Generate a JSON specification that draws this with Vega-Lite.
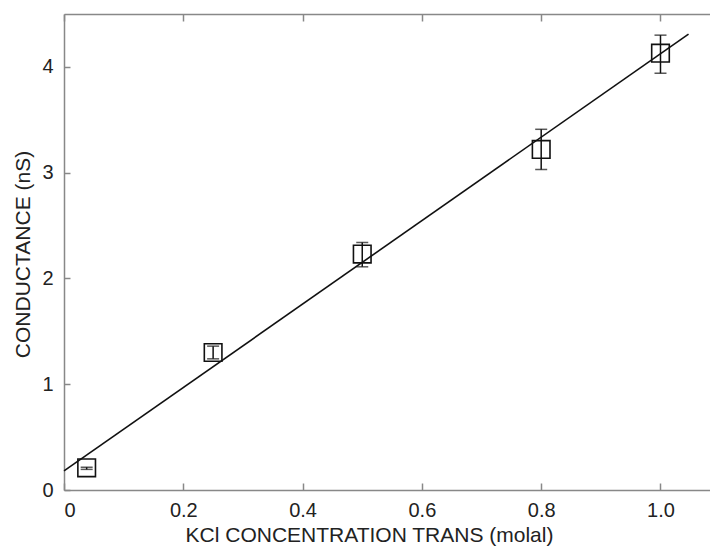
{
  "$schema": "https://vega.github.io/schema/vega-lite/v6.json",
  "width": 646,
  "height": 476,
  "autosize": {"type": "none"},
  "padding": {"left": 64, "top": 14, "right": 0, "bottom": 57},
  "background": "white",
  "view": {"stroke": null},
  "config": {
    "axis": {
      "grid": false,
      "domainColor": "#888888",
      "domainWidth": 1.5,
      "tickColor": "#888888",
      "tickWidth": 1.5,
      "labelColor": "#222222",
      "titleColor": "#222222",
      "labelFont": "Liberation Sans",
      "titleFont": "Liberation Sans",
      "labelFontSize": 20,
      "titleFontSize": 21,
      "titleFontWeight": "normal"
    }
  },
  "datasets": {
    "pts": [
      {"x": 0.038, "y": 0.21, "lo": 0.195, "hi": 0.215},
      {"x": 0.25, "y": 1.30, "lo": 1.24, "hi": 1.36},
      {"x": 0.5, "y": 2.23, "lo": 2.11, "hi": 2.34},
      {"x": 0.8, "y": 3.22, "lo": 3.03, "hi": 3.41},
      {"x": 1.0, "y": 4.13, "lo": 3.94, "hi": 4.30}
    ],
    "fit": [
      {"x": 0.0, "y": 0.18},
      {"x": 1.047, "y": 4.31}
    ]
  },
  "resolve": {"axis": {"x": "independent", "y": "independent"}},
  "layer": [
    {
      "data": {"name": "fit"},
      "mark": {"type": "line", "color": "#111111", "strokeWidth": 1.6},
      "encoding": {
        "x": {"field": "x", "type": "quantitative", "scale": {"domain": [0, 1.083], "nice": false},
          "axis": {"orient": "top", "labels": false, "title": null, "values": [0, 0.2, 0.4, 0.6, 0.8, 1.0], "tickSize": -7}},
        "y": {"field": "y", "type": "quantitative", "scale": {"domain": [0, 4.5], "nice": false}, "axis": null}
      }
    },
    {
      "data": {"name": "pts"},
      "mark": {"type": "errorbar", "ticks": {"size": 12, "color": "#111111", "strokeWidth": 1.5, "thickness": 1.5}, "rule": {"color": "#111111", "strokeWidth": 1.5}},
      "encoding": {
        "x": {"field": "x", "type": "quantitative", "scale": {"domain": [0, 1.083], "nice": false},
          "axis": {"orient": "bottom", "title": "KCl CONCENTRATION TRANS (molal)", "values": [0, 0.2, 0.4, 0.6, 0.8, 1.0], "tickSize": -7, "labelPadding": 17, "titlePadding": 4, "titleX": 305,
            "labelExpr": "datum.value == 0 ? '0' : format(datum.value, '.1f')"}},
        "y": {"field": "lo", "type": "quantitative", "scale": {"domain": [0, 4.5], "nice": false},
          "axis": {"orient": "left", "title": "CONDUCTANCE (nS)", "values": [0, 1, 2, 3, 4], "tickSize": -6, "labelPadding": 17, "titlePadding": 8, "titleY": 240}},
        "y2": {"field": "hi"}
      }
    },
    {
      "data": {"name": "pts"},
      "mark": {"type": "point", "shape": "square", "size": 310, "filled": false, "stroke": "#111111", "strokeWidth": 1.6, "opacity": 1},
      "encoding": {
        "x": {"field": "x", "type": "quantitative", "scale": {"domain": [0, 1.083], "nice": false}, "axis": null},
        "y": {"field": "y", "type": "quantitative", "scale": {"domain": [0, 4.5], "nice": false}, "axis": null}
      }
    }
  ]
}
